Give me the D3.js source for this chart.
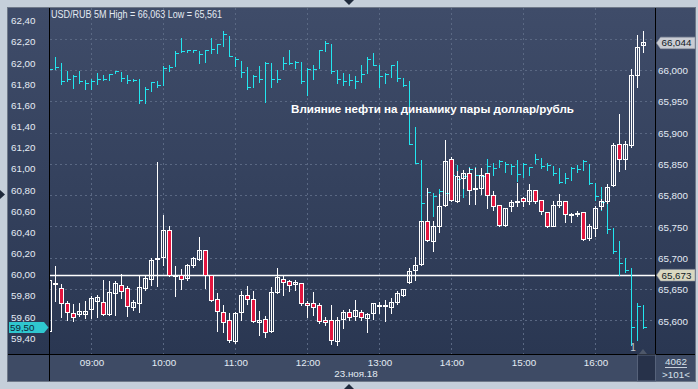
<!DOCTYPE html>
<html>
<head>
<meta charset="utf-8">
<script src="https://d3js.org/d3.v7.min.js"></script>
<style>
  html, body { margin: 0; padding: 0; background: #c5cfda; }
  svg { display: block; }
  text { font-family: "Liberation Sans", Arial, sans-serif; }
</style>
</head>
<body>
<svg id="chart"></svg>
<script>
// USD/RUB 5M candles (right axis), 08:25 .. 16:40
var candleOpen = [65.583,65.659,65.651,65.628,65.612,65.610,65.610,65.618,65.631,65.630,
  65.610,65.644,65.656,65.651,65.621,65.628,65.651,65.666,65.699,65.701,
  65.744,65.673,65.672,65.667,65.688,65.698,65.712,65.672,65.634,65.614,
  65.600,65.567,65.613,65.640,65.634,65.598,65.602,65.583,65.646,65.666,
  65.663,65.658,65.660,65.628,65.627,65.624,65.601,65.600,65.567,65.602,
  65.614,65.607,65.614,65.604,65.611,65.625,65.624,65.622,65.629,65.641,
  65.661,65.681,65.690,65.759,65.727,65.750,65.784,65.857,65.791,65.827,
  65.835,65.811,65.811,65.835,65.800,65.784,65.752,65.782,65.791,65.795,
  65.791,65.808,65.793,65.773,65.751,65.784,65.790,65.770,65.772,65.773,
  65.732,65.748,65.782,65.790,65.816,65.881,65.858,65.880,65.992,66.040];
var candleHigh = [65.667,65.688,65.659,65.632,65.627,65.628,65.632,65.639,65.641,65.665,
  65.664,65.664,65.675,65.656,65.633,65.671,65.672,65.700,65.854,65.769,
  65.751,65.687,65.683,65.691,65.702,65.734,65.714,65.673,65.645,65.625,
  65.612,65.614,65.647,65.655,65.647,65.615,65.608,65.654,65.685,65.672,
  65.665,65.665,65.661,65.632,65.646,65.628,65.607,65.625,65.607,65.618,
  65.619,65.634,65.618,65.612,65.627,65.630,65.633,65.636,65.647,65.650,
  65.684,65.702,65.758,65.812,65.759,65.802,65.889,65.861,65.840,65.841,
  65.844,65.844,65.844,65.836,65.807,65.784,65.779,65.793,65.821,65.798,
  65.819,65.808,65.793,65.773,65.791,65.802,65.791,65.773,65.775,65.773,
  65.754,65.784,65.795,65.819,65.884,65.931,65.888,66.002,66.056,66.063];
var candleLow = [65.581,65.631,65.607,65.602,65.600,65.608,65.604,65.604,65.607,65.609,
  65.609,65.609,65.637,65.608,65.618,65.614,65.649,65.658,65.655,65.689,
  65.672,65.640,65.651,65.666,65.686,65.697,65.653,65.632,65.584,65.582,
  65.567,65.565,65.601,65.627,65.598,65.578,65.575,65.582,65.645,65.641,
  65.647,65.650,65.625,65.606,65.609,65.596,65.594,65.563,65.561,65.589,
  65.601,65.601,65.601,65.583,65.603,65.613,65.600,65.613,65.627,65.639,
  65.660,65.665,65.689,65.727,65.711,65.742,65.784,65.792,65.790,65.812,
  65.786,65.787,65.802,65.780,65.777,65.751,65.751,65.776,65.784,65.784,
  65.787,65.789,65.771,65.750,65.751,65.782,65.758,65.758,65.767,65.729,
  65.729,65.735,65.779,65.789,65.815,65.840,65.843,65.878,65.973,66.029];
var candleClose = [65.664,65.659,65.627,65.614,65.606,65.615,65.615,65.635,65.638,65.610,
  65.646,65.659,65.647,65.623,65.630,65.654,65.667,65.697,65.699,65.745,
  65.673,65.673,65.666,65.688,65.699,65.712,65.673,65.633,65.615,65.597,
  65.568,65.612,65.641,65.634,65.599,65.601,65.582,65.646,65.669,65.662,
  65.656,65.662,65.627,65.624,65.621,65.599,65.597,65.568,65.600,65.614,
  65.606,65.616,65.606,65.610,65.627,65.625,65.624,65.630,65.643,65.650,
  65.679,65.688,65.758,65.729,65.750,65.783,65.855,65.793,65.830,65.836,
  65.808,65.811,65.832,65.800,65.783,65.752,65.779,65.789,65.791,65.790,
  65.808,65.791,65.774,65.751,65.784,65.790,65.770,65.770,65.772,65.730,
  65.750,65.779,65.791,65.813,65.880,65.858,65.881,65.992,66.037,66.044];

// oil, 5M HLC bars (left axis)
var oilHigh = [61.991,62.057,61.997,61.927,61.884,61.927,61.840,61.846,61.903,61.887,
  61.896,61.925,61.912,61.884,61.852,61.849,61.771,61.821,61.830,61.972,
  61.981,62.111,62.234,62.123,62.123,62.114,62.120,62.234,62.180,62.303,
  62.255,62.057,62.019,61.962,61.884,61.972,62.010,62.003,61.934,62.054,
  62.123,62.019,62.010,61.950,61.984,62.123,62.208,62.180,61.934,61.908,
  61.893,61.877,61.981,62.054,62.092,61.981,61.903,61.981,62.019,61.856,
  61.830,61.398,61.083,60.816,60.769,60.806,60.989,61.045,61.036,60.926,
  61.020,61.014,60.942,61.093,61.052,61.083,61.067,61.045,61.083,61.058,
  61.020,61.137,61.099,61.052,61.027,61.005,60.958,61.014,61.036,61.083,
  61.045,60.863,60.831,60.736,60.438,60.318,60.154,60.060,59.729,59.713];
var oilLow = [61.915,61.941,61.799,61.833,61.767,61.808,61.752,61.757,61.805,61.840,
  61.840,61.903,61.833,61.808,61.827,61.625,61.625,61.738,61.776,61.795,
  61.927,61.975,62.101,62.101,62.101,61.997,62.012,62.092,62.098,62.164,
  62.066,61.972,61.871,61.752,61.776,61.823,61.634,61.771,61.823,61.946,
  61.988,61.950,61.808,61.701,61.846,61.956,62.116,61.903,61.814,61.792,
  61.792,61.767,61.821,61.903,61.981,61.776,61.808,61.871,61.830,61.783,
  61.232,61.052,60.273,60.557,60.557,60.642,60.677,60.847,60.753,60.736,
  60.784,60.674,60.769,60.942,60.942,61.020,60.973,60.951,60.888,60.926,
  60.942,61.052,61.005,60.989,60.942,60.863,60.863,60.894,60.973,60.989,
  60.857,60.705,60.611,60.391,60.202,59.996,60.028,59.335,59.382,59.493];
var oilClose = [61.941,61.956,61.827,61.840,61.875,61.827,61.802,61.827,61.846,61.846,
  61.890,61.918,61.856,61.833,61.833,61.650,61.754,61.818,61.783,61.950,
  61.960,62.092,62.111,62.120,62.116,62.085,62.120,62.123,62.173,62.271,
  62.066,62.031,61.906,61.771,61.871,61.846,61.994,61.846,61.846,61.997,
  61.997,62.003,61.823,61.941,61.941,62.116,62.186,61.918,61.846,61.821,
  61.833,61.823,61.896,62.029,61.981,61.877,61.887,61.978,61.856,61.792,
  61.232,61.052,60.674,60.774,60.737,60.781,60.771,60.932,60.894,60.926,
  60.989,60.932,60.926,61.020,60.998,61.067,61.036,61.020,60.942,61.045,
  61.014,61.090,61.020,61.027,60.958,60.869,60.910,61.005,60.995,61.067,
  60.863,60.736,60.677,60.428,60.217,60.100,60.037,59.498,59.697,59.500];

var leftTicks = [59.4,59.6,59.8,60.0,60.2,60.4,60.6,60.8,61.0,61.2,61.4,61.6,61.8,62.0,62.2,62.4];
var gridTicks = [65.60,65.65,65.70,65.75,65.80,65.85,65.90,65.95,66.00,66.05];
var rightTicks = [65.60,65.65,65.70,65.75,65.80,65.85,65.90,65.95,66.00];
var hourTicks = [9,10,11,12,13,14,15,16];
var lastOil = 59.50, lastRate = 66.044, lineRate = 65.673;
var titleText = "USD/RUB 5M High = 66,063 Low = 65,561";
var noteText = "Влияние нефти на динамику пары доллар/рубль";
var dateText = "23.ноя.18";

var W = 698, H = 389;
var plotL = 50, plotR = 655, plotT = 8, plotB = 354;

var svg = d3.select("#chart").attr("width", W).attr("height", H);
var ru = d3.formatLocale({decimal: ",", thousands: " ", grouping: [3], currency: ["", ""]});
var f2 = ru.format(".2f"), f3 = ru.format(".3f");

var day = function(h, m, s) { return new Date(2018, 10, 23, h, m, s || 0); };
var times = candleOpen.map(function(d, i) { return d3.timeMinute.offset(day(8, 25), 5 * i); });
var bars = times.map(function(t, i) {
  return {t: t, o: candleOpen[i], h: candleHigh[i], l: candleLow[i], c: candleClose[i],
          oh: oilHigh[i], ol: oilLow[i], oc: oilClose[i]};
});

var x = d3.scaleTime().domain([day(8, 25, 25), day(16, 49, 35)]).range([plotL, plotR]);
var yR = d3.scaleLinear().domain([65.5471, 66.0998]).range([plotB, plotT]);
var yL = d3.scaleLinear().domain([59.249, 62.520]).range([plotB, plotT]);
var px = function(v) { return Math.floor(v) + 0.5; };

var defs = svg.append("defs");
var grad = defs.append("linearGradient").attr("id", "bg")
  .attr("gradientUnits", "userSpaceOnUse").attr("x1", 0).attr("y1", plotT).attr("x2", 0).attr("y2", plotB);
grad.append("stop").attr("offset", 0).attr("stop-color", "#3f4c69");
grad.append("stop").attr("offset", 1).attr("stop-color", "#2a3752");
defs.append("clipPath").attr("id", "clip").append("rect")
  .attr("x", plotL).attr("y", plotT).attr("width", plotR - plotL).attr("height", plotB - plotT);

// backgrounds
svg.append("rect").attr("width", W).attr("height", H).attr("fill", "#c5cfda");
svg.append("rect").attr("x", 8).attr("y", plotT).attr("width", 687).attr("height", plotB - plotT).attr("fill", "url(#bg)");
svg.append("rect").attr("x", 8).attr("y", plotB).attr("width", 687).attr("height", 27).attr("fill", "#3e4b65");
svg.append("rect").attr("x", 7.5).attr("y", 7.5).attr("width", 688).attr("height", 374)
  .attr("fill", "none").attr("stroke", "#6f7989");

var plot = svg.append("g").attr("clip-path", "url(#clip)");

// grid
plot.selectAll(".hgrid").data(gridTicks).enter().append("line")
  .attr("x1", plotL).attr("x2", plotR)
  .attr("y1", function(d) { return px(yR(d)); }).attr("y2", function(d) { return px(yR(d)); })
  .attr("stroke", "#5a6883").attr("stroke-dasharray", "2,3");
plot.selectAll(".vgrid").data(hourTicks).enter().append("line")
  .attr("y1", plotT).attr("y2", plotB)
  .attr("x1", function(d) { return px(x(day(d, 0))); }).attr("x2", function(d) { return px(x(day(d, 0))); })
  .attr("stroke", "#5a6883").attr("stroke-dasharray", "2,3");

// price line
plot.append("line").attr("x1", plotL).attr("x2", plotR)
  .attr("y1", px(yR(lineRate))).attr("y2", px(yR(lineRate)))
  .attr("stroke", "#ffffff").attr("stroke-width", 1.3);

// oil HLC bars
var oil = plot.append("g").attr("stroke", "#22e6ef").attr("stroke-width", 1);
oil.selectAll(".ov").data(bars).enter().append("line")
  .attr("x1", function(d) { return px(x(d.t)); }).attr("x2", function(d) { return px(x(d.t)); })
  .attr("y1", function(d) { return Math.round(yL(d.oh)); }).attr("y2", function(d) { return Math.round(yL(d.ol)) + 1; });
oil.selectAll(".oc").data(bars).enter().append("line")
  .attr("x1", function(d) { return px(x(d.t)); }).attr("x2", function(d) { return px(x(d.t)) + 3.5; })
  .attr("y1", function(d) { return px(yL(d.oc)); }).attr("y2", function(d) { return px(yL(d.oc)); });

// candles
var candle = plot.selectAll(".candle").data(bars).enter().append("g");
candle.append("line")
  .attr("x1", function(d) { return px(x(d.t)); }).attr("x2", function(d) { return px(x(d.t)); })
  .attr("y1", function(d) { return Math.round(yR(d.h)); }).attr("y2", function(d) { return Math.round(yR(d.l)) + 1; })
  .attr("stroke", "#ffffff");
candle.append("rect")
  .attr("x", function(d) { return px(x(d.t)) - 2; })
  .attr("width", 4)
  .attr("y", function(d) { return px(yR(Math.max(d.o, d.c))); })
  .attr("height", function(d) { return Math.max(1, px(yR(Math.min(d.o, d.c))) - px(yR(Math.max(d.o, d.c)))); })
  .attr("fill", function(d) { return d.c < d.o ? "#e3163f" : "none"; })
  .attr("stroke", "#ffffff");

// texts over plot
svg.append("text").attr("x", 51).attr("y", 17.8).attr("fill", "#e4eaf2")
  .attr("font-size", "10px").attr("textLength", 171).attr("lengthAdjust", "spacingAndGlyphs").text(titleText);
svg.append("text").attr("x", 291).attr("y", 112.5).attr("fill", "#ffffff")
  .attr("font-size", "11px").attr("font-weight", "bold")
  .attr("textLength", 283).attr("lengthAdjust", "spacingAndGlyphs").text(noteText);

// separators
var sep = svg.append("g").attr("stroke", "#000000").attr("stroke-width", 1);
sep.append("line").attr("x1", 49.5).attr("x2", 49.5).attr("y1", plotT).attr("y2", 381);
sep.append("line").attr("x1", 655.5).attr("x2", 655.5).attr("y1", plotT).attr("y2", 381);
sep.append("line").attr("x1", 8).attr("x2", 695).attr("y1", 354.5).attr("y2", 354.5);

// axes
var leftAxis = svg.append("g").attr("transform", "translate(11,0)")
  .call(d3.axisRight(yL).tickValues(leftTicks).tickSize(0).tickPadding(0).tickFormat(f2));
var rightAxis = svg.append("g").attr("transform", "translate(658,0)")
  .call(d3.axisRight(yR).tickValues(rightTicks).tickSize(0).tickPadding(0).tickFormat(f3));
var timeAxis = svg.append("g").attr("transform", "translate(0," + plotB + ")")
  .call(d3.axisBottom(x).tickValues(hourTicks.map(function(h) { return day(h, 0); }))
    .tickSize(0).tickPadding(5).tickFormat(d3.timeFormat("%H:%M")));
[leftAxis, rightAxis, timeAxis].forEach(function(a) {
  a.select(".domain").remove();
  a.selectAll("text").attr("fill", "#e4ebf4").attr("font-size", "9.8px")
    .attr("font-family", "'Liberation Sans', Arial, sans-serif");
});

svg.append("text").attr("x", 356).attr("y", 376.5).attr("text-anchor", "middle")
  .attr("fill", "#e4ebf4").attr("font-size", "9.8px").text(dateText);

// last value tags
var ly = yL(lastOil);
svg.append("path")
  .attr("d", "M9," + (ly - 5.5) + "H44L48.5," + ly + "L44," + (ly + 5.5) + "H9Z")
  .attr("fill", "#2fc7cf");
svg.append("text").attr("x", 10).attr("y", ly + 3.5).attr("fill", "#0e2436")
  .attr("font-size", "9.8px").text(f2(lastOil));

function rightTag(v, fill) {
  var ty = yR(v);
  svg.append("path")
    .attr("d", "M656.5," + ty + "L660.5," + (ty - 5.8) + "H695V" + (ty + 5.8) + "H660.5Z")
    .attr("fill", fill).attr("stroke", "#8e96a2").attr("stroke-width", 0.6);
  svg.append("text").attr("x", 661.5).attr("y", ty + 3.5).attr("fill", "#111a26")
    .attr("font-size", "9.8px").text(f3(v));
}
rightTag(lastRate, "#c9ccd3");
rightTag(lineRate, "#dad8c0");

// bottom right bits
svg.append("rect").attr("x", 637.5).attr("y", 355).attr("width", 18).attr("height", 26)
  .attr("fill", "#27324a").attr("stroke", "#56627a").attr("stroke-width", 1);
svg.append("text").attr("x", 633).attr("y", 350.5).attr("text-anchor", "middle")
  .attr("fill", "#c2c9d3").attr("font-size", "10px").text("1");
svg.append("path").attr("d", "M639,354L647,354L643,349Z").attr("fill", "#4e586a");
svg.append("text").attr("x", 676).attr("y", 365).attr("text-anchor", "middle")
  .attr("fill", "#d8e0ea").attr("font-size", "9.8px").text("4062");
svg.append("line").attr("x1", 665).attr("x2", 687).attr("y1", 367.5).attr("y2", 367.5)
  .attr("stroke", "#c8d0da");
svg.append("text").attr("x", 676).attr("y", 377.5).attr("text-anchor", "middle")
  .attr("fill", "#d8e0ea").attr("font-size", "9.8px").text(">101<");

// frame markers
svg.append("path").attr("d", "M344,0L354,0L349,5Z").attr("fill", "#1f2a3c");
svg.append("path").attr("d", "M344,389L354,389L349,384Z").attr("fill", "#1f2a3c");
svg.append("path").attr("d", "M0,190L0,199L5,194.5Z").attr("fill", "#1f2a3c");
</script>
</body>
</html>
